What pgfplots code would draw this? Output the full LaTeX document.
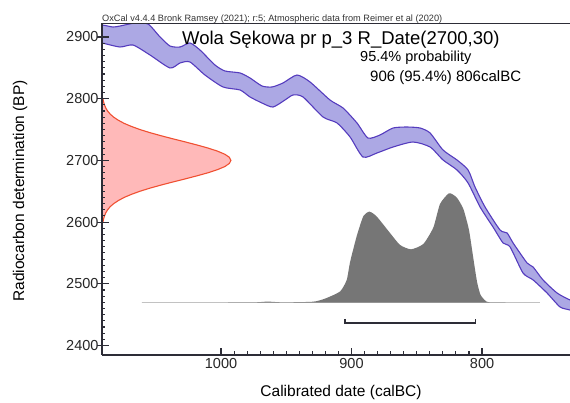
\documentclass[border=0pt]{standalone}
\usepackage{pgfplots}
\pgfplotsset{compat=1.18}
\usepackage{fontspec}
\setmainfont{Liberation Sans}
\definecolor{bandfill}{RGB}{172,168,228}
\definecolor{bandline}{RGB}{85,60,190}
\definecolor{redfill}{RGB}{255,185,185}
\definecolor{redline}{RGB}{240,80,50}
\definecolor{postgray}{RGB}{118,118,118}
\definecolor{basegray}{RGB}{205,205,205}
\definecolor{axisdark}{RGB}{45,45,55}
\begin{document}
\begin{tikzpicture}[x=1pt,y=1pt]
\path[use as bounding box] (0,0) rectangle (570,403);
\begin{axis}[
  at={(102pt,48pt)}, anchor=south west,
  scale only axis, width=468pt, height=331.5pt,
  x dir=reverse,
  xmin=732.6, xmax=1091.2,
  ymin=2384.6, ymax=2921.9,
  axis x line*=bottom, axis y line*=left,
  axis line style={-, line width=1.3pt, color=axisdark},
  axis on top=true,
  xtick={800,900,1000}, ytick={2400,2500,2600,2700,2800,2900},
  minor x tick num=9, minor y tick num=9,
  tick align=inside,
  major tick length=7pt, minor tick length=3.5pt,
  tick style={line width=1.1pt, color=axisdark},
  extra y ticks={2400,2500,2600,2700,2800,2900},
  extra y tick labels={},
  extra y tick style={tick align=outside, major tick length=5pt},
  ticklabel style={font=\fontsize{14.5}{16}\selectfont, color=black!85},
  /pgf/number format/assume math mode=true,
  /pgf/number format/1000 sep={},
  clip=true,
]
% red radiocarbon measurement
\addplot[fill=redfill, draw=redline, line width=1.1pt] coordinates {
(1091.2,2598) (1090.45,2600) (1090.0,2605) (1089.3,2610) (1088.3,2615) (1086.9,2620) (1084.9,2625)
(1082.2,2630) (1078.6,2635) (1074.2,2640) (1068.6,2645) (1062.1,2650) (1054.5,2655)
(1046.0,2660) (1036.9,2665) (1027.5,2670) (1018.4,2675) (1009.9,2680) (1002.7,2685)
(997.1,2690) (993.6,2695) (992.4,2700) (993.6,2705) (997.1,2710) (1002.7,2715)
(1009.9,2720) (1018.4,2725) (1027.5,2730) (1036.9,2735) (1046.0,2740) (1054.5,2745)
(1062.1,2750) (1068.6,2755) (1074.2,2760) (1078.6,2765) (1082.2,2770) (1084.9,2775)
(1086.9,2780) (1088.3,2785) (1089.3,2790) (1090.0,2795) (1090.45,2800) (1091.2,2802)
};
% calibration curve band
\addplot[fill=bandfill, draw=bandline, line width=1.1pt, smooth, tension=0.4] coordinates {
(1100,2917) (1091.2,2919.4) (1082.8,2916.2) (1077.4,2917.8) (1065.9,2922.7) (1055.9,2921)
(1046.7,2900) (1039.1,2885.4) (1031.4,2883.8) (1023.8,2890.3) (1016.1,2878.9) (1004.6,2854.6)
(996.9,2844.9) (985.4,2841.7) (977.8,2833.6) (968.6,2820.6) (960.9,2819) (952.5,2825.5)
(941.8,2838.4) (931.8,2827.1) (916.5,2797.9) (906.5,2784.9) (895.8,2760.6) (887.4,2736.3)
(878.2,2741.2) (868.2,2752.5) (857.5,2754.1) (847.5,2752.5) (839.8,2744.4) (829.9,2716.9)
(819.2,2700.7) (810.7,2684.5) (805.4,2657) (797.7,2624.5) (786.2,2587.2) (780.8,2582.4)
(776.2,2566.2) (765.5,2533.8) (760.9,2527.3) (753.3,2506.3) (742.5,2485.1) (732.6,2473.8)
(720,2464)
(720,2448) (732.6,2457.5) (740.2,2462.4) (750.2,2485.1) (760.9,2506.3) (768.6,2517.5)
(778.5,2559.7) (783.9,2566.2) (791.6,2592.1) (801.5,2624.5) (810.7,2663.4) (819.2,2684.5)
(829.9,2700.7) (839.8,2721.7) (852.9,2729.8) (868.2,2721.7) (880.5,2712) (891.2,2705.5)
(901.1,2737.9) (911.1,2760.6) (921.8,2770.3) (937.2,2802.8) (944.8,2806) (951,2797.9)
(960.2,2786.5) (968.6,2793) (977.8,2802.8) (985.4,2814.1) (998.5,2819) (1012.3,2838.4)
(1023.8,2859.5) (1031.4,2857.9) (1039.1,2849.8) (1054.4,2870.8) (1067.4,2887) (1077.4,2883.8)
(1091.2,2890.3) (1100,2893)
};
% baseline of the posterior
\addplot[draw=basegray, line width=1pt] coordinates {(1060.8,2469.5) (755.6,2469.5)};
% posterior distribution
\addplot[fill=postgray, draw=none, smooth, tension=0.35] coordinates {
(1060.8,2469.5) (977.8,2469.8) (964.8,2471.2) (952.5,2469.9) (929.3,2471.0) (920.3,2476)
(908.8,2487.5) (903.7,2506.2) (901.1,2535.3) (896,2577.5) (890.9,2609.9) (886.2,2616.9)
(880.7,2609.1) (870.5,2582.3) (862.8,2562.9) (854.4,2555.9) (845,2564.5) (837.3,2591.3)
(832.2,2629.3) (825.3,2646.7) (819.4,2639.9) (814.3,2621.2) (810,2587.2) (806.7,2541.8)
(803.8,2502.9) (801.1,2481.9) (796.4,2471.0) (790,2469.8) (755.6,2469.5)
};
% 95.4% range bracket
\addplot[draw=axisdark, line width=1.3pt] coordinates {(905,2443) (905,2436.5) (804.8,2436.5) (804.8,2443)};
% top frame line
\draw[line width=1.3pt, color=axisdark] (rel axis cs:0,1) -- (rel axis cs:1,1);
\end{axis}
\node[anchor=base west, inner sep=0pt, font=\fontsize{9.2}{10}\selectfont, color=black!80] at (102,381.5) {OxCal v4.4.4 Bronk Ramsey (2021); r:5; Atmospheric data from Reimer et al (2020)};
\node[anchor=base west, inner sep=0pt, font=\fontsize{18.5}{20}\selectfont] at (182,358) {Wola Sękowa pr p\_3 R\_Date(2700,30)};
\node[anchor=base west, inner sep=0pt, font=\fontsize{14.5}{16}\selectfont] at (360,341.3) {95.4\% probability};
\node[anchor=base west, inner sep=0pt, font=\fontsize{15}{16}\selectfont] at (370,321.3) {906 (95.4\%) 806calBC};
\node[anchor=center, inner sep=0pt, rotate=90, font=\fontsize{15.5}{17}\selectfont] at (20,212) {Radiocarbon determination (BP)};
\node[anchor=center, inner sep=0pt, font=\fontsize{15.5}{17}\selectfont] at (341,11) {Calibrated date (calBC)};
\end{tikzpicture}
\end{document}
